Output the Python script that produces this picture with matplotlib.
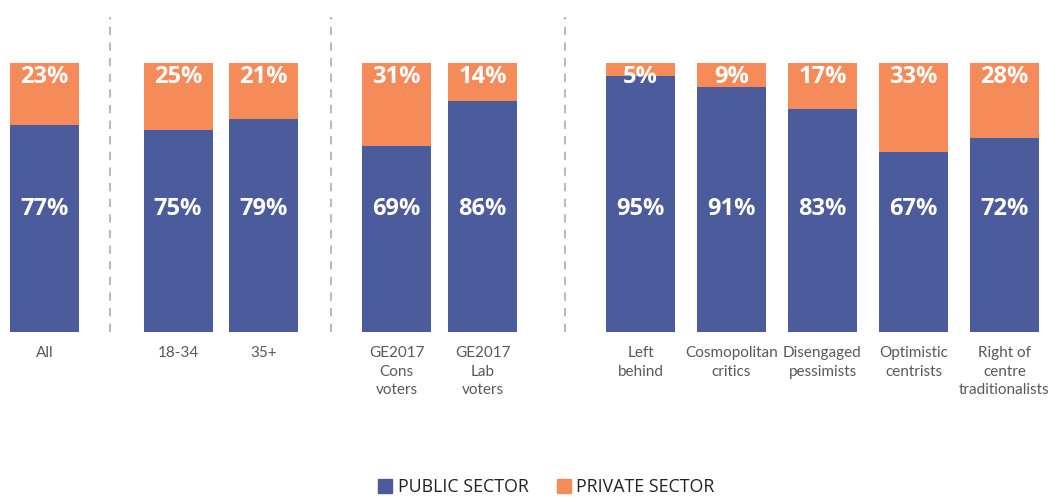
import matplotlib.pyplot as plt
from matplotlib.patches import Patch

# Data
categories = ['All', '18-34', '35+', 'GE2017\nCons\nvoters', 'GE2017\nLab\nvoters',
              'Left\nbehind', 'Cosmopolitan\ncritics', 'Disengaged\npessimists',
              'Optimistic\ncentrists', 'Right of\ncentre\ntraditionalists']
public = [77, 75, 79, 69, 86, 95, 91, 83, 67, 72]
private = [23, 25, 21, 31, 14, 5, 9, 17, 33, 28]

# Layout (pixel-like x units, figure is 1059 wide)
xpos = [44.5, 178, 263.5, 396.5, 482.5, 640.5, 731.5, 822.5, 913.5, 1004.5]
dividers = [110, 331, 565]
bar_w = 69

blue = '#4B5B9B'
orange = '#F68B5A'
plt.rcParams['font.family'] = ['Open Sans', 'DejaVu Sans']

fig = plt.figure(figsize=(10.59, 4.97), dpi=100)
ax = fig.add_axes([0, 165 / 497, 1, 269 / 497])
ax.set_xlim(0, 1059)
ax.set_ylim(0, 100)
ax.axis('off')

ax.bar(xpos, public, width=bar_w, color=blue)
ax.bar(xpos, private, width=bar_w, bottom=public, color=orange)

for x, pu, pr in zip(xpos, public, private):
    ax.text(x, 45.8, f'{pu}%', color='white', fontsize=17, fontweight='bold',
            ha='center', va='center')
    ax.text(x, 94.8, f'{pr}%', color='white', fontsize=17, fontweight='bold',
            ha='center', va='center')

for x, lab in zip(xpos, categories):
    ax.text(x, -5.2, lab, color='#595959', fontsize=11, ha='center', va='top',
            linespacing=1.42, family=['Lato', 'DejaVu Sans'], clip_on=False)

for d in dividers:
    ax.plot([d, d], [0, 117], color='#BBBBBB', lw=1.5, ls=(0, (4, 3.5)),
            clip_on=False)

handles = [Patch(color=blue, label='PUBLIC SECTOR'),
           Patch(color=orange, label='PRIVATE SECTOR')]
fig.legend(handles=handles, loc='center', bbox_to_anchor=(0.516, 1 - 487 / 497),
           ncol=2, frameon=False, fontsize=12.8, handlelength=0.8, handleheight=0.8,
           handletextpad=0.3, columnspacing=1.6, labelcolor='#222222')

fig.savefig('out.png', dpi=100)
